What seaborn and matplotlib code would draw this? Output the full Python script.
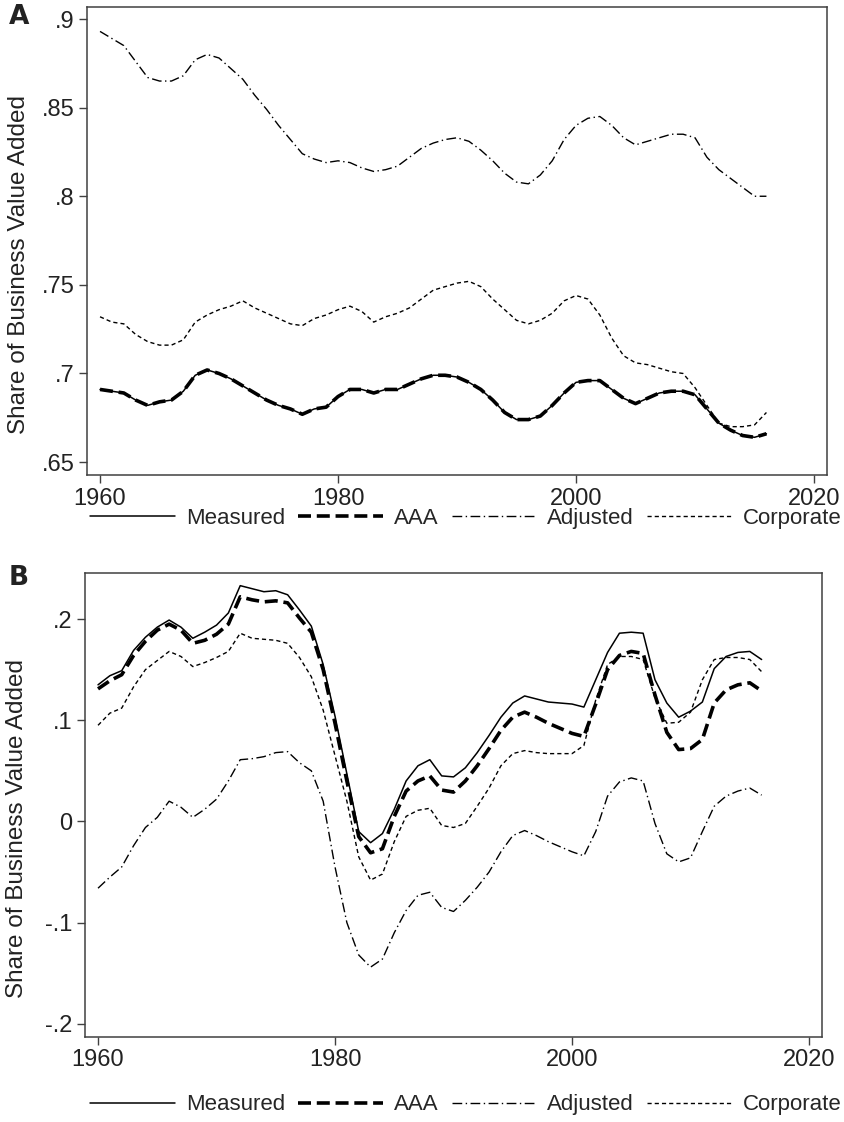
import numpy as np
import pandas as pd
import matplotlib
matplotlib.use("Agg")
import matplotlib.pyplot as plt
import seaborn as sns

# Data
years = list(range(1960, 2017))

measured_a = [0.691, 0.690, 0.689, 0.685, 0.682, 0.684, 0.685, 0.690, 0.699, 0.702,
              0.700, 0.697, 0.693, 0.689, 0.685, 0.682, 0.680, 0.677, 0.680, 0.681,
              0.687, 0.691, 0.691, 0.689, 0.691, 0.691, 0.694, 0.697, 0.699, 0.699,
              0.698, 0.695, 0.691, 0.685, 0.678, 0.674, 0.674, 0.676, 0.682, 0.689,
              0.695, 0.696, 0.696, 0.691, 0.686, 0.683, 0.686, 0.689, 0.690, 0.690,
              0.688, 0.680, 0.672, 0.668, 0.665, 0.664, 0.666]
aaa_a = [0.691, 0.690, 0.689, 0.685, 0.682, 0.684, 0.685, 0.690, 0.699, 0.702,
         0.700, 0.697, 0.693, 0.689, 0.685, 0.682, 0.680, 0.677, 0.680, 0.681,
         0.687, 0.691, 0.691, 0.689, 0.691, 0.691, 0.694, 0.697, 0.699, 0.699,
         0.698, 0.695, 0.691, 0.685, 0.678, 0.674, 0.674, 0.676, 0.682, 0.689,
         0.695, 0.696, 0.696, 0.691, 0.686, 0.683, 0.686, 0.689, 0.690, 0.690,
         0.688, 0.680, 0.672, 0.668, 0.665, 0.664, 0.666]
adjusted_a = [0.893, 0.889, 0.885, 0.876, 0.867, 0.865, 0.865, 0.868, 0.877, 0.880,
              0.878, 0.872, 0.866, 0.857, 0.849, 0.840, 0.832, 0.824, 0.821, 0.819,
              0.820, 0.819, 0.816, 0.814, 0.815, 0.817, 0.822, 0.827, 0.830, 0.832,
              0.833, 0.831, 0.826, 0.820, 0.813, 0.808, 0.807, 0.812, 0.820, 0.832,
              0.840, 0.844, 0.845, 0.840, 0.833, 0.829, 0.831, 0.833, 0.835, 0.835,
              0.833, 0.822, 0.815, 0.810, 0.805, 0.800, 0.800]
corporate_a = [0.732, 0.729, 0.728, 0.722, 0.718, 0.716, 0.716, 0.719, 0.729, 0.733,
               0.736, 0.738, 0.741, 0.737, 0.734, 0.731, 0.728, 0.727, 0.731, 0.733,
               0.736, 0.738, 0.735, 0.729, 0.732, 0.734, 0.737, 0.742, 0.747, 0.749,
               0.751, 0.752, 0.749, 0.742, 0.736, 0.730, 0.728, 0.730, 0.734, 0.741,
               0.744, 0.742, 0.733, 0.720, 0.710, 0.706, 0.705, 0.703, 0.701, 0.700,
               0.692, 0.682, 0.672, 0.670, 0.670, 0.671, 0.678]

measured_b = [0.135, 0.144, 0.149, 0.169, 0.182, 0.192, 0.199, 0.192, 0.181, 0.187,
              0.194, 0.206, 0.233, 0.230, 0.227, 0.228, 0.224, 0.209, 0.193, 0.155,
              0.104, 0.047, -0.010, -0.021, -0.012, 0.012, 0.040, 0.055, 0.061, 0.045,
              0.044, 0.053, 0.068, 0.085, 0.103, 0.117, 0.124, 0.121, 0.118, 0.117,
              0.116, 0.113, 0.140, 0.167, 0.186, 0.187, 0.186, 0.140, 0.117, 0.103,
              0.109, 0.118, 0.151, 0.163, 0.167, 0.168, 0.160]
aaa_b = [0.131, 0.139, 0.145, 0.164, 0.178, 0.189, 0.195, 0.189, 0.176, 0.179,
         0.185, 0.195, 0.222, 0.219, 0.217, 0.218, 0.216, 0.201, 0.187, 0.150,
         0.097, 0.040, -0.015, -0.031, -0.027, 0.005, 0.030, 0.040, 0.045, 0.031,
         0.029, 0.040, 0.055, 0.072, 0.090, 0.103, 0.108, 0.103, 0.097, 0.092,
         0.087, 0.084, 0.116, 0.150, 0.164, 0.168, 0.166, 0.125, 0.088, 0.071,
         0.072, 0.081, 0.117, 0.130, 0.135, 0.137, 0.129]
adjusted_b = [-0.066, -0.055, -0.045, -0.024, -0.006, 0.004, 0.020, 0.014, 0.004, 0.012,
              0.022, 0.040, 0.061, 0.062, 0.064, 0.068, 0.069, 0.058, 0.050, 0.020,
              -0.045, -0.100, -0.132, -0.144, -0.136, -0.110, -0.088, -0.073, -0.070, -0.085,
              -0.089, -0.078, -0.065, -0.050, -0.030, -0.014, -0.009, -0.014, -0.020, -0.025,
              -0.030, -0.034, -0.010, 0.025, 0.039, 0.043, 0.040, -0.002, -0.032, -0.040,
              -0.036, -0.010, 0.015, 0.025, 0.030, 0.033, 0.026]
corporate_b = [0.095, 0.107, 0.112, 0.133, 0.150, 0.159, 0.168, 0.163, 0.153, 0.157,
               0.162, 0.168, 0.186, 0.181, 0.180, 0.179, 0.176, 0.162, 0.143, 0.110,
               0.065, 0.020, -0.035, -0.058, -0.052, -0.020, 0.005, 0.011, 0.013, -0.004,
               -0.006, -0.002, 0.015, 0.033, 0.055, 0.067, 0.070, 0.068, 0.067, 0.067,
               0.067, 0.075, 0.120, 0.155, 0.163, 0.163, 0.160, 0.122, 0.097, 0.098,
               0.108, 0.140, 0.160, 0.162, 0.162, 0.160, 0.148]

series_names = ["Measured", "AAA", "Adjusted", "Corporate"]
x_ticks = [1960, 1980, 2000, 2020]
y_ticks_a = [0.65, 0.7, 0.75, 0.8, 0.85, 0.9]
y_labels_a = [".65", ".7", ".75", ".8", ".85", ".9"]
y_ticks_b = [-0.2, -0.1, 0.0, 0.1, 0.2]
y_labels_b = ["-.2", "-.1", "0", ".1", ".2"]
y_title = "Share of Business Value Added"

# line styles
styles = {
    "Measured": dict(linewidth=1.1, linestyle="-"),
    "AAA": dict(linewidth=2.6, linestyle=(0, (3.6, 1.6))),
    "Adjusted": dict(linewidth=1.0, linestyle=(0, (7, 2.5, 1, 2.5))),
    "Corporate": dict(linewidth=1.0, linestyle=(0, (3, 2.2))),
}

sns.set_style("ticks")
plt.rcParams["font.family"] = ["Liberation Sans", "DejaVu Sans"]

fig = plt.figure(figsize=(8.44, 11.22), dpi=100)
ax_a = fig.add_axes([0.103, 0.5766, 0.877, 0.4172])
ax_b = fig.add_axes([0.1007, 0.0758, 0.8733, 0.4135])

spine_col = "#404040"


def draw_panel(ax, data, yticks, ylabels, ylim):
    df = pd.DataFrame({"year": years})
    for name, vals in zip(series_names, data):
        df[name] = vals
    for name in series_names:
        sns.lineplot(data=df, x="year", y=name, ax=ax, color="black",
                     label=name, **styles[name])
    ax.set_xlim(1958.9, 2021.1)
    ax.set_ylim(*ylim)
    ax.set_xticks(x_ticks)
    ax.set_xticklabels([str(t) for t in x_ticks])
    ax.set_yticks(yticks)
    ax.set_yticklabels(ylabels)
    ax.set_xlabel("")
    ax.set_ylabel(y_title, fontsize=17.5, color="#222222")
    ax.yaxis.set_label_coords(-0.077, 0.45)
    ax.tick_params(axis="both", labelsize=17, length=6, width=1,
                   color=spine_col, labelcolor="#222222", pad=3)
    for sp in ax.spines.values():
        sp.set_visible(True)
        sp.set_color(spine_col)
        sp.set_linewidth(1.1)
    ax.get_legend().remove()


draw_panel(ax_a, [measured_a, aaa_a, adjusted_a, corporate_a],
           y_ticks_a, y_labels_a, (0.6427, 0.9068))
draw_panel(ax_b, [measured_b, aaa_b, adjusted_b, corporate_b],
           y_ticks_b, y_labels_b, (-0.213, 0.2455))

handles, labels = ax_a.get_legend_handles_labels()
for ypos in [0.538, 0.0152]:
    fig.legend(handles, labels, loc="center", bbox_to_anchor=(0.552, ypos),
               ncol=4, frameon=False, handlelength=3.8, columnspacing=0.6,
               handletextpad=0.5,
               prop={"family": ["Liberation Sans Narrow", "Liberation Sans"], "size": 16})

fig.text(0.01, 0.985, "A", fontsize=19, fontweight="bold", va="center",
         family="DejaVu Sans", color="#222222")
fig.text(0.01, 0.485, "B", fontsize=19, fontweight="bold", va="center",
         family="DejaVu Sans", color="#222222")

fig.savefig("out.png", dpi=100)
